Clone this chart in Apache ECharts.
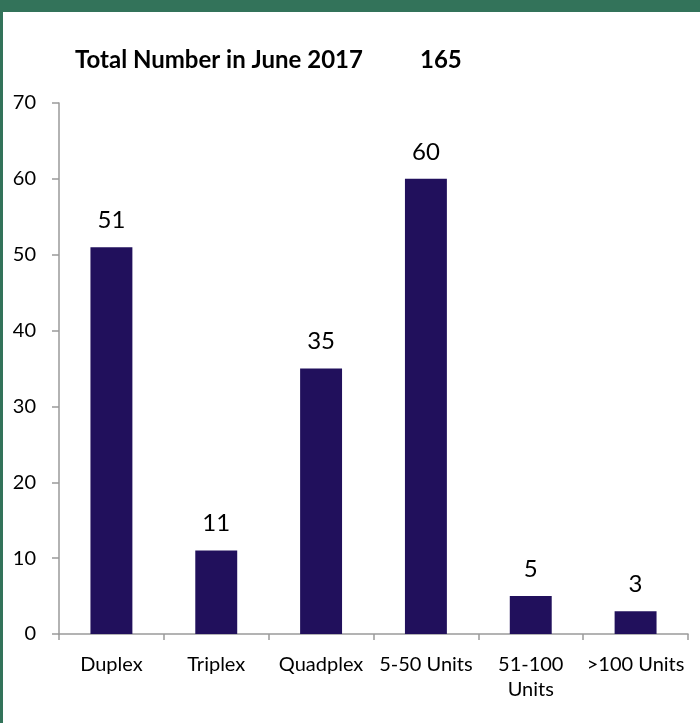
<!DOCTYPE html>
<html><head><meta charset="utf-8">
<script src="https://cdn.jsdelivr.net/npm/echarts@6/dist/echarts.min.js"></script>
<style>html,body{margin:0;padding:0;background:#fff}#c{width:700px;height:723px}</style>
</head><body><div id="c"></div>
<script>
const categories = ['Duplex', 'Triplex', 'Quadplex', '5-50 Units', '51-100\nUnits', '>100 Units'];
const values = [51, 11, 35, 60, 5, 3];
const titleText = 'Total Number in June 2017';
const totalText = '165';
const font = 'Lato, "Open Sans", sans-serif';
const chart = echarts.init(document.getElementById('c'));
chart.setOption({
  backgroundColor: '#fff',
  animation: false,
  graphic: [
    {type: 'rect', shape: {x: 0, y: 0, width: 700, height: 12}, style: {fill: '#33735A'}},
    {type: 'rect', shape: {x: 0, y: 0, width: 3, height: 723}, style: {fill: '#33735A'}}
  ],
  title: [
    {text: titleText, left: 70, top: 43, textStyle: {fontFamily: font, fontSize: 24, fontWeight: 'bold', color: '#000'}},
    {text: totalText, left: 415, top: 43, textStyle: {fontFamily: font, fontSize: 24, fontWeight: 'bold', color: '#000'}}
  ],
  grid: {left: 59, right: 12, top: 103, bottom: 89, containLabel: false},
  xAxis: {
    type: 'category', data: categories,
    axisLine: {lineStyle: {color: '#9a9a9a', width: 1.5}},
    axisTick: {show: true, length: 6, lineStyle: {color: '#9a9a9a', width: 1.5}},
    axisLabel: {interval: 0, hideOverlap: false, fontFamily: font, fontSize: 20, color: '#000', margin: 18, lineHeight: 25}
  },
  yAxis: {
    type: 'value', min: 0, max: 70, interval: 10,
    axisLine: {show: true, lineStyle: {color: '#9a9a9a', width: 1.5}},
    axisTick: {show: true, length: 7, lineStyle: {color: '#9a9a9a', width: 1.5}},
    splitLine: {show: false},
    axisLabel: {fontFamily: font, fontSize: 20, color: '#000', margin: 23}
  },
  series: [{
    type: 'bar', data: values, barWidth: '40%',
    itemStyle: {color: '#21105C'},
    label: {show: true, position: 'top', distance: 15, fontFamily: font, fontSize: 24, color: '#000'}
  }]
});
</script></body></html>
